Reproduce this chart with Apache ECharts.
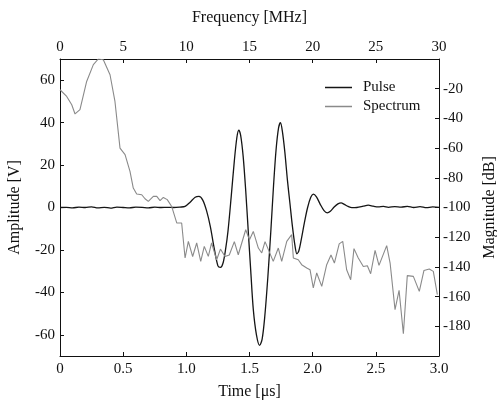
<!DOCTYPE html>
<html>
<head>
<meta charset="utf-8">
<script src="https://cdn.jsdelivr.net/npm/echarts@6/dist/echarts.min.js"></script>
<style>html,body{margin:0;padding:0;background:#fff}#c{width:497px;height:401px}</style>
</head>
<body>
<div id="c"></div>
<script>
// Pulse (bottom axis: time in µs, left axis: amplitude in V)
const pulseTime = [0,0.05,0.1,0.15,0.2,0.25,0.3,0.35,0.4,0.45,0.5,0.55,0.6,0.65,0.7,0.75,0.8,0.85,0.9,0.95,0.99,
  1.03,1.07,1.10,1.13,1.16,1.19,1.22,1.25,1.27,1.29,1.31,1.33,1.355,1.38,1.40,1.415,1.43,1.45,1.47,1.49,1.51,1.53,
  1.555,1.58,1.60,1.62,1.645,1.67,1.69,1.71,1.73,1.745,1.76,1.78,1.80,1.82,1.84,1.86,1.875,1.89,1.91,1.935,1.96,
  1.985,2.005,2.03,2.06,2.09,2.115,2.14,2.17,2.2,2.225,2.25,2.28,2.31,2.35,2.40,2.44,2.48,2.52,2.56,2.6,2.65,2.7,
  2.75,2.8,2.85,2.9,2.95,3.0];
const pulseAmp = [0,0.1,-0.2,0.2,0,0.3,-0.2,0.1,-0.3,0.2,0,-0.2,0.2,0.1,-0.2,0.2,0,0.1,0,0.2,0.5,
  2.5,4.8,5.2,3.5,-1.5,-9,-19,-27.5,-28.2,-26.3,-20,-11,5,22,33,36.5,34,24,8,-11,-30,-48,
  -60,-65,-62,-52,-33,-10,10,27,37.5,40,36,26,13,2,-9,-18,-21.8,-20.5,-15,-7,0,
  4.8,6.3,5,1.5,-1.5,-2.5,-1.8,0.2,1.7,2.2,1.5,0.5,-0.1,0,0.6,1.1,0.6,0.3,0.5,0.1,0.4,0.2,
  0.5,0,0.4,-0.1,0.3,0.1];

// Spectrum (top axis: frequency in MHz, right axis: magnitude in dB)
const specFreq = [0,0.53,0.93,1.19,1.58,2.11,2.64,3.03,3.43,3.96,4.35,4.75,5.15,5.54,5.8,6.07,6.47,6.73,6.99,7.39,
  7.66,7.92,8.18,8.49,8.84,9.24,9.63,9.9,10.16,10.5,10.82,11.14,11.42,11.74,12.0,12.4,12.7,13.06,13.4,13.8,14.11,
  14.7,15.0,15.3,15.7,15.97,16.23,16.88,17.28,17.55,17.95,18.34,18.47,18.86,19.13,19.53,19.79,20.05,20.32,20.72,
  21.11,21.45,21.72,22.1,22.38,22.69,23.01,23.27,23.61,24.01,24.33,24.59,24.94,25.25,25.86,26.13,26.52,26.84,
  27.18,27.49,27.97,28.44,28.81,29.23,29.55,29.87];
const specDb = [-20.7,-25.2,-30.8,-37,-34.1,-15.1,-3.8,0,-0.5,-10.6,-28.6,-60,-64.4,-75.7,-86.9,-90.9,-91.4,-94.1,-95.9,-92.5,
  -92.5,-95.4,-93.2,-94.7,-99.3,-110.4,-110.4,-134,-122.8,-133,-123.9,-136.3,-126.2,-132.9,-123.9,-135.2,-128,-133,-132,-123,-131.8,
  -115,-121.7,-116.1,-127.3,-130.6,-123,-136.3,-127.3,-136.3,-122.8,-118.3,-134,-135.2,-138.5,-140.7,-141.9,-154.2,-144.1,-153.1,
  -138.5,-132,-137.4,-124.5,-122.8,-141.9,-148.6,-127.7,-134,-139.7,-139.2,-144.6,-128.9,-139,-125.7,-137.4,-168.8,-155.8,
  -185,-145.9,-146.4,-156.5,-142.4,-141.4,-143,-158.7];

// Axis ticks / labels
const timeTicks = [0,0.5,1.0,1.5,2.0,2.5,3.0];
const freqTicks = [0,5,10,15,20,25,30];
const ampTicks = [-60,-40,-20,0,20,40,60];
const dbTicks = [-180,-160,-140,-120,-100,-80,-60,-40,-20];

const FONT = '"Liberation Serif","Times New Roman",serif';
const INK = '#111';
const axisCommon = {
  axisLine: {show: true, onZero: false, lineStyle: {color: INK, width: 1}},
  axisTick: {show: true, inside: true, length: 4, lineStyle: {color: INK}},
  splitLine: {show: false},
  nameLocation: 'middle',
  nameTextStyle: {fontFamily: FONT, fontSize: 16, color: INK},
};
const labelStyle = {fontFamily: FONT, fontSize: 15, color: INK};

const chart = echarts.init(document.getElementById('c'), null, {renderer: 'canvas'});
chart.setOption({
  animation: false,
  backgroundColor: '#fff',
  grid: {left: 60, right: 58, top: 59, bottom: 45, containLabel: false, outerBoundsMode: 'none'},
  legend: {
    orient: 'vertical', left: 320, top: 75,
    icon: 'rect', itemWidth: 27, itemHeight: 1.5, itemGap: 4,
    textStyle: {fontFamily: FONT, fontSize: 15, lineHeight: 15, color: INK, padding: [0, 0, 0, 6]},
    data: ['Pulse', 'Spectrum']
  },
  xAxis: [
    Object.assign({}, axisCommon, {
      type: 'value', position: 'bottom', min: 0, max: 3, interval: 0.5,
      name: 'Time [μs]', nameGap: 28,
      axisLabel: Object.assign({}, labelStyle, {margin: 6,
        customValues: timeTicks,
        formatter: v => v === 0 ? '0' : v.toFixed(1)}),
      axisTick: Object.assign({}, axisCommon.axisTick, {customValues: timeTicks})
    }),
    Object.assign({}, axisCommon, {
      type: 'value', position: 'top', min: 0, max: 30, interval: 5,
      name: 'Frequency [MHz]', nameGap: 33,
      axisLabel: Object.assign({}, labelStyle, {margin: 4, customValues: freqTicks}),
      axisTick: Object.assign({}, axisCommon.axisTick, {customValues: freqTicks})
    })
  ],
  yAxis: [
    Object.assign({}, axisCommon, {
      type: 'value', position: 'left', min: -70, max: 70,
      name: 'Amplitude [V]', nameGap: 37,
      axisLabel: Object.assign({}, labelStyle, {margin: 5, customValues: ampTicks}),
      axisTick: Object.assign({}, axisCommon.axisTick, {customValues: ampTicks})
    }),
    Object.assign({}, axisCommon, {
      type: 'value', position: 'right', min: -200, max: 0, interval: 20,
      name: 'Magnitude [dB]', nameGap: 36,
      axisLabel: Object.assign({}, labelStyle, {margin: 4, customValues: dbTicks}),
      axisTick: Object.assign({}, axisCommon.axisTick, {customValues: dbTicks})
    })
  ],
  series: [
    {
      name: 'Pulse', type: 'line', xAxisIndex: 0, yAxisIndex: 0,
      symbol: 'none', smooth: 0.3,
      lineStyle: {color: '#151515', width: 1.3},
      itemStyle: {color: '#151515'},
      data: pulseTime.map((t, i) => [t, pulseAmp[i]])
    },
    {
      name: 'Spectrum', type: 'line', xAxisIndex: 1, yAxisIndex: 1,
      symbol: 'none',
      lineStyle: {color: '#8a8a8a', width: 1.1},
      itemStyle: {color: '#8a8a8a'},
      data: specFreq.map((f, i) => [f, specDb[i]])
    }
  ]
});
</script>
</body>
</html>
